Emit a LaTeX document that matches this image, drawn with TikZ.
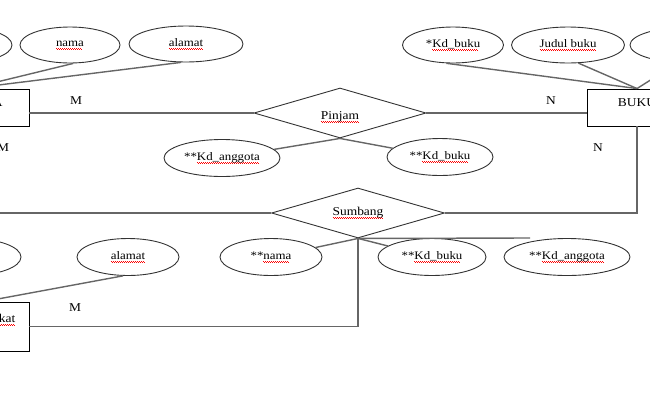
\documentclass[tikz,border=0pt]{standalone}
\usepackage{fontspec}
\setmainfont[FakeStretch=1.12]{Liberation Serif}
\usetikzlibrary{shapes.geometric}

% red spell-check wave under words
\newsavebox\spellbox
\newcommand\spell[1]{\sbox\spellbox{#1}\rlap{\textcolor{red}{\leaders\hbox{\rule[-2.4pt]{1pt}{0.6pt}\rule[-3.1pt]{1pt}{0.6pt}}\hskip\wd\spellbox}}#1}

\tikzset{
  attr/.style={draw=black!80, ellipse, line width=0.9pt, inner sep=0pt,
    minimum height=36pt, font=\fontsize{11.5}{13}\selectfont},
  entity/.style={draw=black, rectangle, line width=0.9pt, inner sep=0pt,
    minimum height=37pt, text height=9pt, text depth=12pt,
    font=\fontsize{12}{14}\selectfont},
  relasi/.style={draw=black!80, diamond, line width=0.9pt, inner sep=0pt,
    aspect=3.44, minimum width=172pt, minimum height=50pt,
    font=\fontsize{12}{14}\selectfont},
  link/.style={draw=black!60, line width=1.4pt},
  card/.style={font=\fontsize{12}{14}\selectfont}
}

\begin{document}
\begin{tikzpicture}[x=1pt,y=-1pt]
    \useasboundingbox (0,0) rectangle (650,400);
    \clip (0,0) rectangle (650,400);

    % entities
    \node[entity, minimum width=118pt] (anggota) at (-30,107.5) {ANGGOTA};
    \node[entity, minimum width=100pt] (buku) at (637,107.5) {BUKU};
    \node[entity, minimum width=90pt, minimum height=49pt, text depth=18pt] (masy) at (-16,326.5) {\spell{Masyarakat}};

    % relations
    \node[relasi, text height=15pt, text depth=3pt] (pinjam) at (340,113) {\spell{Pinjam}};
    \node[relasi, minimum width=173pt] (sumbang) at (358,213) {\spell{Sumbang}};

    % attributes of ANGGOTA
    \node[attr, minimum width=104pt] (kdang) at (-40,45) {};
    \node[attr, minimum width=100pt] (nama) at (70,45) {\spell{nama}};
    \node[attr, minimum width=114pt] (alamat) at (186,44) {\spell{alamat}};
    \draw[link] (nama.280) -- (anggota.north);
    \draw[link] (alamat.255) -- (anggota.north);

    % attributes of BUKU
    \node[attr, minimum width=101pt] (kdbuku) at (453,45) {*\spell{Kd\_buku}};
    \node[attr, minimum width=113pt] (judul) at (568,45) {\spell{Judul buku}};
    \node[attr, minimum width=120pt] (pengarang) at (690,45) {};
    \draw[link] (kdbuku.250) -- (buku.north);
    \draw[link] (judul.300) -- (buku.north);
    \draw[link] (pengarang.235) -- (buku.north);

    % attributes of Masyarakat
    \node[attr, minimum width=102pt, minimum height=37pt] (nama3) at (-30,257) {};
    \node[attr, minimum width=102pt, minimum height=37pt] (alamat3) at (128,257) {\spell{alamat}};
    \draw[link] (alamat3.255) -- (masy.north);

    % Pinjam
    \draw[link] (pinjam.west) -- (pinjam.west -| anggota.east);
    \draw[link] (pinjam.east) -- (pinjam.east -| buku.west);
    \node[card] (m1) at (76,101) {M};
    \node[card] (n1) at (551,101) {N};
    \node[attr, minimum width=116pt, minimum height=37pt] (kdangp) at (222,158) {**\spell{Kd\_anggota}};
    \node[attr, minimum width=106pt, minimum height=37pt] (kdbukup) at (440,157) {**\spell{Kd\_buku}};
    \draw[link] (kdangp) -- (pinjam.south);
    \draw[link] (kdbukup) -- (pinjam.south);

    % Sumbang
    \draw[link] (anggota.south) |- (sumbang.west);
    \draw[link] (buku.south) |- (sumbang.east);
    \draw[link] (sumbang.south) |- (masy.east);
    \node[card] (m2) at (3,148) {M};
    \node[card] (n2) at (598,148) {N};
    \node[card] (m3) at (75,308) {M};
    \node[attr, minimum width=102pt, minimum height=37pt] (namas) at (271,257) {**\spell{nama}};
    \node[attr, minimum width=108pt, minimum height=37pt] (kdbukus) at (432,257) {**\spell{Kd\_buku}};
    \node[attr, minimum width=126pt, minimum height=37pt] (kdangs) at (567,257) {**\spell{Kd\_anggota}};
    \coordinate (kdtip) at (530,238);
    \draw[link] (namas) -- (sumbang.south);
    \draw[link] (kdbukus) -- (sumbang.south);
    \draw[link] (sumbang.south) -- (kdtip);
\end{tikzpicture}
\end{document}
